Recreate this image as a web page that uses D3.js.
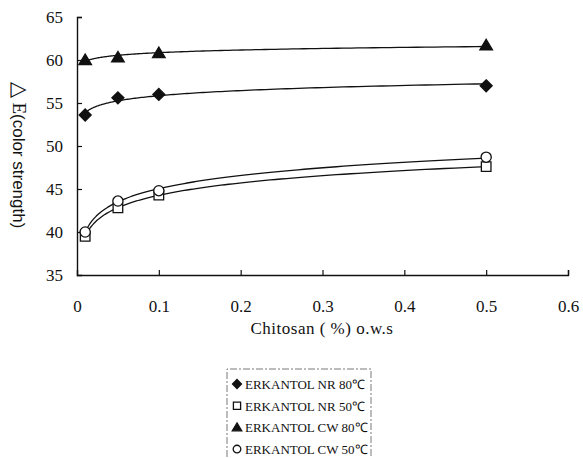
<!DOCTYPE html>
<html><head><meta charset="utf-8">
<script src="https://cdn.jsdelivr.net/npm/d3@7"></script>
<style>body{margin:0;background:#fff}svg{display:block}</style>
</head><body><svg id="c" width="583" height="458"></svg>
<script>
const xValues = [0.01, 0.05, 0.1, 0.5];
const nr80 = [53.6, 55.6, 56.0, 57.0];
const nr50 = [39.5, 42.8, 44.3, 47.6];
const cw80 = [60.0, 60.3, 60.8, 61.7];
const cw50 = [40.0, 43.6, 44.8, 48.7];
const xTicks = [0, 0.1, 0.2, 0.3, 0.4, 0.5, 0.6];
const yTicks = [35, 40, 45, 50, 55, 60, 65];
const seriesNames = ["ERKANTOL NR 80℃", "ERKANTOL NR 50℃", "ERKANTOL CW 80℃", "ERKANTOL CW 50℃"];
const seriesSymbols = ["diamond", "square", "triangle", "circle"];
const seriesValues = [nr80, nr50, cw80, cw50];

const SERIF = '"Liberation Serif"';
const SANS = '"Liberation Sans"';
const svg = d3.select("#c");
const x = d3.scaleLinear().domain([0, 0.6]).range([77, 568]);
const y = d3.scaleLinear().domain([35, 65]).range([275, 17]);
const ink = "#111";

// axes
const gx = svg.append("g").attr("transform", "translate(0,275)")
  .call(d3.axisBottom(x).tickValues(xTicks).tickSize(-5).tickPadding(25).tickFormat(d => d === 0 ? "0" : d3.format(".1f")(d)));
const gy = svg.append("g").attr("transform", "translate(77,0)")
  .call(d3.axisLeft(y).tickValues(yTicks).tickSize(-5).tickPadding(14));
[gx, gy].forEach(g => {
  g.select(".domain").attr("stroke", ink).attr("stroke-width", 1.4);
  g.selectAll(".tick line").attr("stroke", ink).attr("stroke-width", 1.2);
  g.selectAll(".tick text").attr("fill", ink).style("font-family", SERIF).style("font-size", "17px");
});
gx.select(".tick:first-of-type line").remove();
gy.select(".tick:first-of-type line").remove();

svg.append("text").attr("x", 322).attr("y", 334).attr("text-anchor", "middle")
  .style("font-family", SERIF).style("font-size", "17px").style("letter-spacing", "0.5px").attr("fill", ink).text("Chitosan ( %) o.w.s");
const yl = svg.append("text").attr("transform", "translate(13,155) rotate(90)").attr("text-anchor", "middle")
  .style("font-family", SERIF).style("font-size", "19px").attr("fill", ink);
yl.append("tspan").style("font-size", "21px").text("△");
yl.append("tspan").text(" E");
yl.append("tspan").style("font-family", SANS).style("font-size", "17px").text("(color strength)");

// log trendlines
function logFit(xs, ys) {
  const lx = xs.map(Math.log);
  const mx = d3.mean(lx), my = d3.mean(ys);
  const a = d3.sum(lx.map((v, i) => (v - mx) * (ys[i] - my))) / d3.sum(lx.map(v => (v - mx) ** 2));
  const b = my - a * mx;
  return t => a * Math.log(t) + b;
}
const line = d3.line().x(d => x(d[0])).y(d => y(d[1]));
seriesValues.forEach(vals => {
  const f = logFit(xValues, vals);
  const pts = d3.range(0, 151).map(i => {
    const t = Math.exp(Math.log(0.009) + (Math.log(0.5) - Math.log(0.009)) * i / 150);
    return [t, f(t)];
  });
  svg.append("path").attr("d", line(pts)).attr("fill", "none").attr("stroke", ink).attr("stroke-width", 1.3);
});

function symPath(s, r) {
  if (s === "diamond") return `M0,${-r}L${r},0L0,${r}L${-r},0Z`;
  if (s === "square") return `M${-r*0.8},${-r*0.8}H${r*0.8}V${r*0.8}H${-r*0.8}Z`;
  if (s === "triangle") return `M0,${-r}L${r*1.05},${r*0.75}H${-r*1.05}Z`;
  return d3.symbol().type(d3.symbolCircle).size(Math.PI * (r*0.85) * (r*0.85))();
}
const filled = {diamond: true, square: false, triangle: true, circle: false};
function drawSym(g, s, cx, cy, r) {
  g.append("path").attr("d", symPath(s, r))
    .attr("transform", `translate(${cx},${cy})`)
    .attr("fill", filled[s] ? ink : "#fff").attr("stroke", ink).attr("stroke-width", 1.3);
}
seriesValues.forEach((vals, si) => {
  vals.forEach((v, i) => drawSym(svg, seriesSymbols[si], x(xValues[i]), y(v), 6));
});

// legend
const lg = svg.append("g");
lg.append("path").attr("d", "M227,470 V369 H371 V470").attr("fill", "none").attr("stroke", "#555").attr("stroke-width", 0.8).attr("stroke-dasharray", "7,2,2,2");
seriesNames.forEach((n, i) => {
  const cy = 384 + i * 21.7;
  drawSym(lg, seriesSymbols[i], 237, cy, 4.5);
  lg.append("text").attr("x", 245).attr("y", cy + 5).style("font-family", SERIF).style("font-size", "13px").attr("fill", ink).text(n);
});
</script></body></html>
